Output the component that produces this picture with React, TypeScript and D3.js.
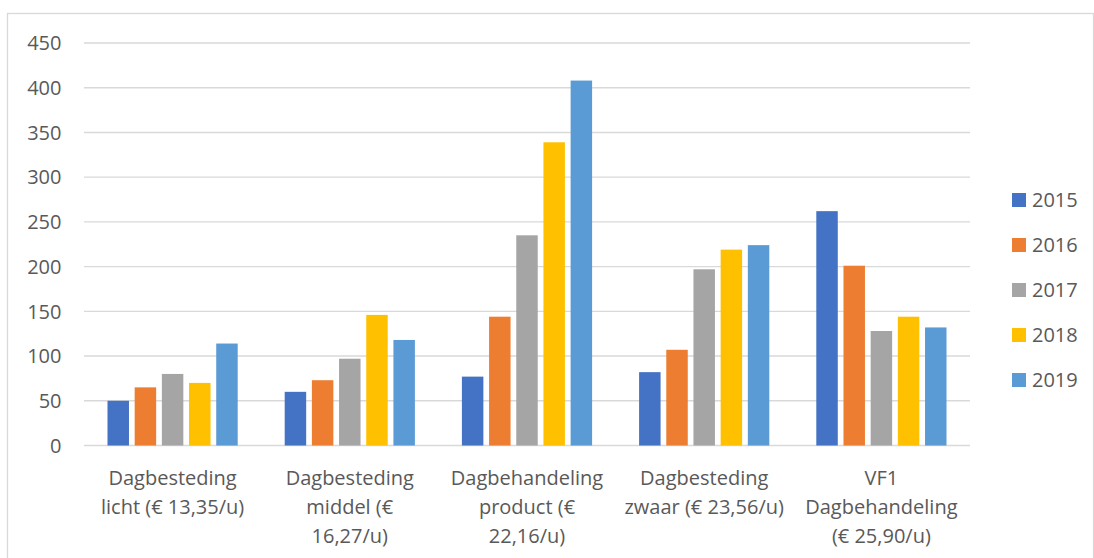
import React from "react";
import * as d3 from "d3";

const categories: string[][] = [
  ["Dagbesteding", "licht (€ 13,35/u)"],
  ["Dagbesteding", "middel (€", "16,27/u)"],
  ["Dagbehandeling", "product (€", "22,16/u)"],
  ["Dagbesteding", "zwaar (€ 23,56/u)"],
  ["VF1", "Dagbehandeling", "(€ 25,90/u)"],
];
const years = ["2015", "2016", "2017", "2018", "2019"];
const values2015 = [50, 60, 77, 82, 262];
const values2016 = [65, 73, 144, 107, 201];
const values2017 = [80, 97, 235, 197, 128];
const values2018 = [70, 146, 339, 219, 144];
const values2019 = [114, 118, 408, 224, 132];
const series = [values2015, values2016, values2017, values2018, values2019];
const colors = ["#4472C4", "#ED7D31", "#A5A5A5", "#FFC000", "#5B9BD5"];
const yTicks = [0, 50, 100, 150, 200, 250, 300, 350, 400, 450];

const W = 1094;
const H = 558;
const FONT = "'Open Sans', 'Noto Sans', sans-serif";
const TXT = "#595959";
const FS = 20;

export default function App() {
  const catKeys = categories.map((_, i) => String(i));
  const x0 = d3.scaleBand<string>().domain(catKeys).range([84, 970]).padding(0);
  const bw0 = x0.bandwidth();
  const x1 = d3
    .scaleBand<string>()
    .domain(years)
    .range([23.5, bw0 - 23.5])
    .paddingInner(0.21)
    .paddingOuter(0);
  const y = d3.scaleLinear().domain([0, 450]).range([445.5, 43]);

  return (
    <div style={{ position: "fixed", left: 0, top: 0 }}>
      <svg width={W} height={H} style={{ display: "block", fontFamily: FONT }}>
        <rect x={0} y={0} width={W} height={H} fill="#fff" />
        <rect x={7.5} y={13.5} width={1086} height={570} fill="#fff" stroke="#d9d9d9" strokeWidth={1.3} />
        {yTicks.map((t) => (
          <g key={t}>
            <line x1={84} x2={970} y1={y(t)} y2={y(t)} stroke="#d9d9d9" strokeWidth={1.4} />
            <text x={61.5} y={y(t)} dy="0.36em" textAnchor="end" fontSize={FS} fill={TXT}>
              {t}
            </text>
          </g>
        ))}
        {catKeys.map((c, ci) => (
          <g key={c} transform={`translate(${x0(c)},0)`}>
            {years.map((yr, si) => {
              const v = series[si][ci];
              return (
                <rect
                  key={yr}
                  x={x1(yr)}
                  y={y(v)}
                  width={x1.bandwidth()}
                  height={y(0) - y(v)}
                  fill={colors[si]}
                />
              );
            })}
            {categories[ci].map((line, li) => (
              <text
                key={li}
                x={bw0 / 2}
                y={484.5 + li * 29}
                textAnchor="middle"
                fontSize={FS}
                fill={TXT}
              >
                {line}
              </text>
            ))}
          </g>
        ))}
        {years.map((yr, i) => (
          <g key={yr} transform={`translate(1012, ${200 + i * 45})`}>
            <rect x={0} y={-7} width={14} height={14} fill={colors[i]} />
            <text x={20} y={0} dy="0.36em" fontSize={FS} fill={TXT}>
              {yr}
            </text>
          </g>
        ))}
      </svg>
    </div>
  );
}
